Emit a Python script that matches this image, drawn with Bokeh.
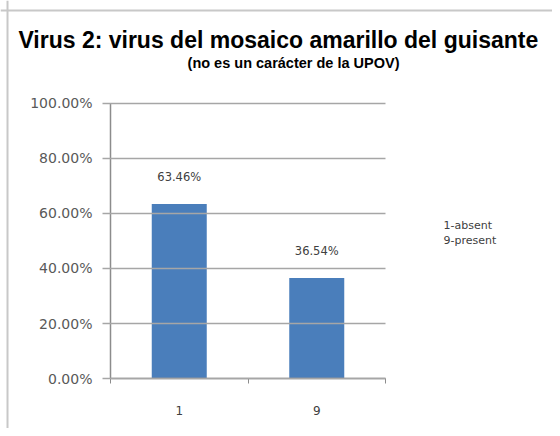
from bokeh.plotting import figure
from bokeh.models import (Range1d, LinearAxis, FixedTicker, Label, Span,
                          NumeralTickFormatter, LabelSet, ColumnDataSource)
from bokeh.core.properties import value
from bokeh.embed import file_html
from bokeh.resources import INLINE

# ---- data ----
categories = ["1", "9"]
shares = [0.6346, 0.3654]
share_labels = ["63.46%", "36.54%"]
y_ticks = [0.0, 0.2, 0.4, 0.6, 0.8, 1.0]
legend_lines = ["1-absent", "9-present"]
title_text = "Virus 2:  virus del mosaico amarillo del guisante"
subtitle_text = "(no es un carácter de la UPOV)"

GRID = "#a6a6a6"
AXIS = "#8c8c8c"
BAR = "#4a7ebb"
TXT = "#404040"
FONT = "DejaVu Sans"

n = len(categories)
centres = [i + 0.5 for i in range(n)]
edges = list(range(n + 1))

X0, X1 = -0.8, 3.2145
W = 552
PX_PER_CAT = W / (X1 - X0)

# the frame fills the whole canvas; axes sit inside it at fixed locations
p = figure(width=W, height=428, title=None,
           x_range=Range1d(X0, X1), y_range=Range1d(-0.1818, 1.3745),
           output_backend="svg", toolbar_location=None,
           x_axis_location=None, y_axis_location=None,
           min_border=0, min_border_left=0, min_border_right=0,
           min_border_top=0, min_border_bottom=0)
p.outline_line_color = None
p.background_fill_color = "white"
p.border_fill_color = "white"
p.grid.visible = False

# chart-area border (left and top edges visible in the picture)
p.add_layout(Span(location=-0.749, dimension="height", line_color="#c8c8c8", line_width=2))
p.add_layout(Span(location=1.338, dimension="width", line_color="#c8c8c8", line_width=2))

# y axis; its inward ticks span the category region and serve as gridlines
yaxis = LinearAxis(ticker=FixedTicker(ticks=y_ticks),
                   formatter=NumeralTickFormatter(format="0.00%"),
                   fixed_location=0, bounds=(0, 1))
yaxis.axis_line_color = AXIS
yaxis.axis_line_width = 1.5
yaxis.major_tick_line_color = GRID
yaxis.major_tick_line_width = 1.5
yaxis.major_tick_in = int(round(n * PX_PER_CAT))
yaxis.major_tick_out = 8
yaxis.minor_tick_line_color = None
yaxis.major_label_text_font = FONT
yaxis.major_label_text_font_size = "14px"
yaxis.major_label_text_color = "#595959"
yaxis.major_label_standoff = 10
p.add_layout(yaxis, "left")

# x axis: labels at category centres, small ticks at category boundaries
xaxis = LinearAxis(ticker=FixedTicker(ticks=centres, minor_ticks=edges),
                   fixed_location=0, bounds=(0, n))
xaxis.major_label_overrides = {c: lab for c, lab in zip(centres, categories)}
xaxis.axis_line_color = AXIS
xaxis.axis_line_width = 1.5
xaxis.major_tick_line_color = None
xaxis.major_tick_in = 0
xaxis.major_tick_out = 0
xaxis.minor_tick_line_color = AXIS
xaxis.minor_tick_in = 0
xaxis.minor_tick_out = 5
xaxis.major_label_text_font = FONT
xaxis.major_label_text_font_size = "12px"
xaxis.major_label_text_color = TXT
xaxis.major_label_standoff = 22
p.add_layout(xaxis, "below")

src = ColumnDataSource(dict(x=centres, cat=categories, top=shares, text=share_labels))
p.vbar(x="x", top="top", width=0.4, source=src, fill_color=BAR, line_color=None)

p.add_layout(LabelSet(x="x", y="top", text="text", source=src, y_offset=27,
                      text_align="center", text_baseline="middle",
                      text_font=value(FONT), text_font_size=value("11.5px"),
                      text_color=TXT))

# titles
p.add_layout(Label(x=1.2436, y=1.232, text=title_text,
                   text_align="center", text_baseline="middle",
                   text_font="Liberation Sans", text_font_style="bold",
                   text_font_size="23px", text_color="#000000"))
p.add_layout(Label(x=1.331, y=1.149, text=subtitle_text,
                   text_align="center", text_baseline="middle",
                   text_font="Liberation Sans", text_font_style="bold",
                   text_font_size="14.5px", text_color="#000000"))

# code explanations at the right
for i, t in enumerate(legend_lines):
    p.add_layout(Label(x=2.4218, y=0.5564 - i * 0.0546, text=t,
                       text_align="left", text_baseline="middle",
                       text_font=FONT, text_font_size="11px", text_color=TXT))

open("out.html", "w").write(file_html(p, INLINE))
